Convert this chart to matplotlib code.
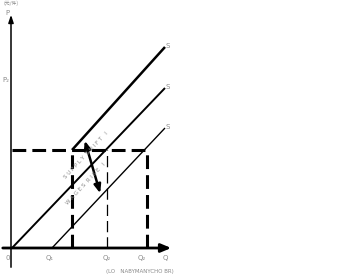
import matplotlib
matplotlib.use("Agg")
import matplotlib.pyplot as plt

# quantities and price level (chart units, origin at O)
q_labels = ["Q\u2081", "Q\u2082", "Q\u2082", "Q"]
q_label_pos = [38, 95, 130, 153]
q_left = 60      # left dashed vertical
q_mid = 95       # thin dashed vertical
q_right = 135    # right dashed vertical
p_level = 98     # dashed horizontal
p2_pos = 168

# supply curves: (x0, y0, x1, y1)
supply_top = [60, 98, 153, 201]
supply_mid = [0, 0, 153, 160]
supply_low = [40, 0, 153, 120]

# shift arrow
arrow_start = (72, 110)
arrow_end = (89, 52)

gray = "#8a8a8a"
font = dict(family=["Liberation Sans Narrow", "DejaVu Sans"], color=gray)

fig = plt.figure(figsize=(3.43, 2.79), dpi=100)
ax = fig.add_axes([0, 0, 1, 1])
ax.set_xlim(-12, 331)
ax.set_ylim(-31, 248)
ax.axis("off")

# axes with arrows
ax.annotate("", xy=(162, 0), xytext=(-12, 0),
            arrowprops=dict(arrowstyle="-|>,head_width=0.25,head_length=0.6", lw=2, color="black"))
ax.annotate("", xy=(-1, 236), xytext=(-1, -22),
            arrowprops=dict(arrowstyle="-|>,head_width=0.15,head_length=0.45", lw=1.1, color="black"))

# supply lines
for seg, lw in [(supply_top, 1.8), (supply_mid, 1.4), (supply_low, 1.0)]:
    ax.plot([seg[0], seg[2]], [seg[1], seg[3]], color="black", lw=lw, solid_capstyle="butt")
    ax.text(seg[2] + 1, seg[3] + 1, "S", fontsize=5, ha="left", va="center", **font)

# dashed guide lines
ax.plot([0, q_right], [p_level, p_level], color="black", lw=2.2, ls=(0, (4.5, 2)))
ax.plot([q_left, q_left], [0, p_level], color="black", lw=2.2, ls=(0, (4.5, 2)))
ax.plot([q_right, q_right], [0, p_level], color="black", lw=2.2, ls=(0, (4.5, 2)))
ax.plot([q_mid, q_mid], [0, p_level], color="black", lw=0.9, ls=(0, (9, 4)))

# shift arrow
ax.annotate("", xy=arrow_end, xytext=arrow_start,
            arrowprops=dict(arrowstyle="<|-|>,head_width=0.2,head_length=0.5", lw=1.8, color="black"))
ax.text(74, 93, "S U P P L Y  S H I F T   I", fontsize=4, rotation=47,
        ha="center", va="center", **font)
ax.text(74, 64, "W A G E S  R I S E   I", fontsize=4, rotation=47,
        ha="center", va="center", **font)

# labels
ax.text(-4, -10, "0", fontsize=5, ha="center", va="center", **font)
for lab, x in zip(q_labels, q_label_pos):
    ax.text(x, -10, lab, fontsize=5, ha="center", va="center", **font)
ax.text(-6, p2_pos, "P\u2082", fontsize=5, ha="center", va="center", **font)
ax.text(-5, 235, "P", fontsize=5, ha="center", va="center", **font)
ax.text(-8, 245, "(元/件)", fontsize=3.5, ha="left", va="center",
        family=["Noto Sans CJK SC", "DejaVu Sans"], color=gray)
ax.text(128, -23, "(LO   NABYMANYCHO BR)", fontsize=4, ha="center", va="center", **font)

fig.savefig("out.png", dpi=100)
